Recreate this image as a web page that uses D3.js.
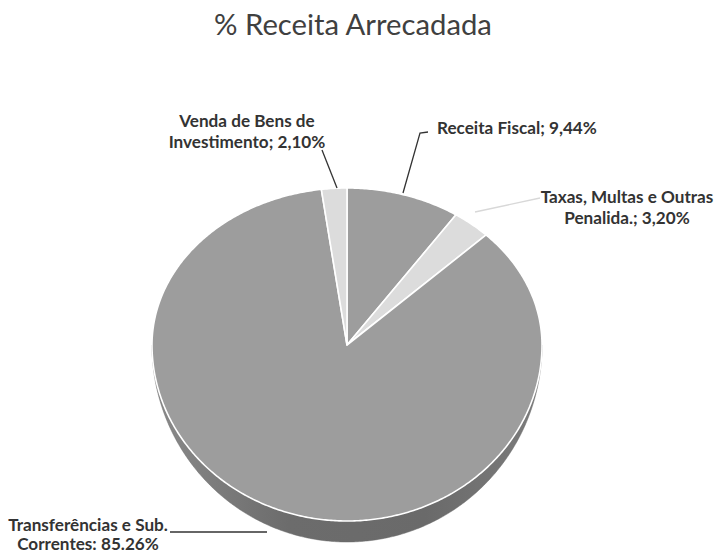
<!DOCTYPE html>
<html>
<head>
<meta charset="utf-8">
<script src="https://cdn.jsdelivr.net/npm/d3@7"></script>
<style>
  html, body { margin: 0; padding: 0; background: #ffffff; }
  svg { display: block; }
</style>
</head>
<body>
<svg id="chart" width="717" height="555"></svg>
<script>
// ---- data ----
const title = "% Receita Arrecadada";
const categories = ["Receita Fiscal", "Taxas, Multas e Outras Penalida.", "Transferências e Sub. Correntes", "Venda de Bens de Investimento"];
const values = [9.44, 3.20, 85.26, 2.10];
const labelLines = [
  ["Receita Fiscal; 9,44%"],
  ["Taxas, Multas e Outras", "Penalida.; 3,20%"],
  ["Transferências e Sub.", "Correntes: 85.26%"],
  ["Venda de Bens de", "Investimento; 2,10%"]
];

// ---- layout / style ----
const W = 717, H = 555;
const CX = 347, CY = 345, RX = 195, RYT = 157, RYB = 176, DEPTH = 21;
const topColors = ["#9d9d9d", "#dcdcdc", "#9d9d9d", "#dcdcdc"];
const labelLayout = [
  { x: 437, y: 134, anchor: "start", lh: 21 },
  { x: 627, y: 203, anchor: "middle", lh: 21 },
  { x: 88,  y: 531, anchor: "middle", lh: 19 },
  { x: 247, y: 127, anchor: "middle", lh: 21 }
];
const leaders = [
  { pts: [[428, 132], [420, 133], [403, 193]], color: "#333" },
  { pts: [[540, 198], [475, 212]], color: "#d8d8d8" },
  { pts: [[170, 532], [267, 532]], color: "#333" },
  { pts: [[322, 150], [337, 188]], color: "#333" }
];

const svg = d3.select("#chart");
const defs = svg.append("defs");
const sideGrad = defs.append("linearGradient").attr("id", "sideGrad")
  .attr("x1", 0).attr("y1", 0).attr("x2", 1).attr("y2", 0);
sideGrad.append("stop").attr("offset", "0%").attr("stop-color", "#8a8a8a");
sideGrad.append("stop").attr("offset", "35%").attr("stop-color", "#6c6c6c");
sideGrad.append("stop").attr("offset", "70%").attr("stop-color", "#6a6a6a");
sideGrad.append("stop").attr("offset", "100%").attr("stop-color", "#7c7c7c");

// perspective ellipse point
function topPt(a) {
  const c = Math.cos(a);
  const ry = c >= 0 ? RYT : RYB;
  return [CX + RX * Math.sin(a), CY - ry * c];
}
function botPt(a) {
  const c = Math.cos(a);
  const ry = c >= 0 ? RYT : RYB + DEPTH;
  return [CX + RX * Math.sin(a), CY - ry * c];
}
function arcPts(a0, a1, fn) {
  const n = Math.max(2, Math.ceil(Math.abs(a1 - a0) / 0.01));
  return d3.range(n + 1).map(i => fn(a0 + (a1 - a0) * i / n));
}
const line = d3.line();

const pie = d3.pie().sort(null).value(d => d)(values);

// sides (front half only)
const gSide = svg.append("g");
pie.forEach((p, i) => {
  const s = Math.max(p.startAngle, Math.PI / 2);
  const e = Math.min(p.endAngle, 3 * Math.PI / 2);
  if (e <= s) return;
  const top = arcPts(s, e, topPt);
  const bot = arcPts(e, s, botPt);
  gSide.append("path")
    .attr("d", line(top.concat(bot)) + "Z")
    .attr("fill", topColors[i] === "#9d9d9d" ? "url(#sideGrad)" : "#b5b5b5")
    .attr("stroke", "#6a6a6a").attr("stroke-width", 0.5);
});

// top faces
const gTop = svg.append("g");
pie.forEach((p, i) => {
  const pts = [[CX, CY]].concat(arcPts(p.startAngle, p.endAngle, topPt));
  gTop.append("path")
    .attr("d", line(pts) + "Z")
    .attr("fill", topColors[i])
    .attr("stroke", "#ffffff")
    .attr("stroke-width", 1.6)
    .attr("stroke-linejoin", "round");
});

// leader lines
leaders.forEach(l => {
  svg.append("path").attr("d", line(l.pts)).attr("fill", "none")
    .attr("stroke", l.color).attr("stroke-width", 1.3);
});

// title
const t = svg.append("text").attr("x", 353).attr("y", 35)
  .attr("text-anchor", "middle")
  .attr("font-family", "Lato, 'Open Sans', sans-serif")
  .attr("font-size", 26).attr("fill", "#404040").text(title);
const tw = t.node().getComputedTextLength();
t.attr("font-size", 26 * 278 / tw);

// labels
const gLab = svg.append("g")
  .attr("font-family", "Lato, 'Open Sans', sans-serif")
  .attr("font-weight", "bold").attr("fill", "#333333");
const texts = [];
labelLines.forEach((lines, i) => {
  const L = labelLayout[i];
  lines.forEach((s, j) => {
    const el = gLab.append("text").attr("x", L.x).attr("y", L.y + j * L.lh)
      .attr("text-anchor", L.anchor).attr("font-size", 14).text(s);
    texts.push(el);
  });
});
// fit label size to reference width of "Receita Fiscal; 9,44%"
const refW = texts[0].node().getComputedTextLength();
const fs = 14 * 160 / refW;
texts.forEach(el => el.attr("font-size", fs));
</script>
</body>
</html>
